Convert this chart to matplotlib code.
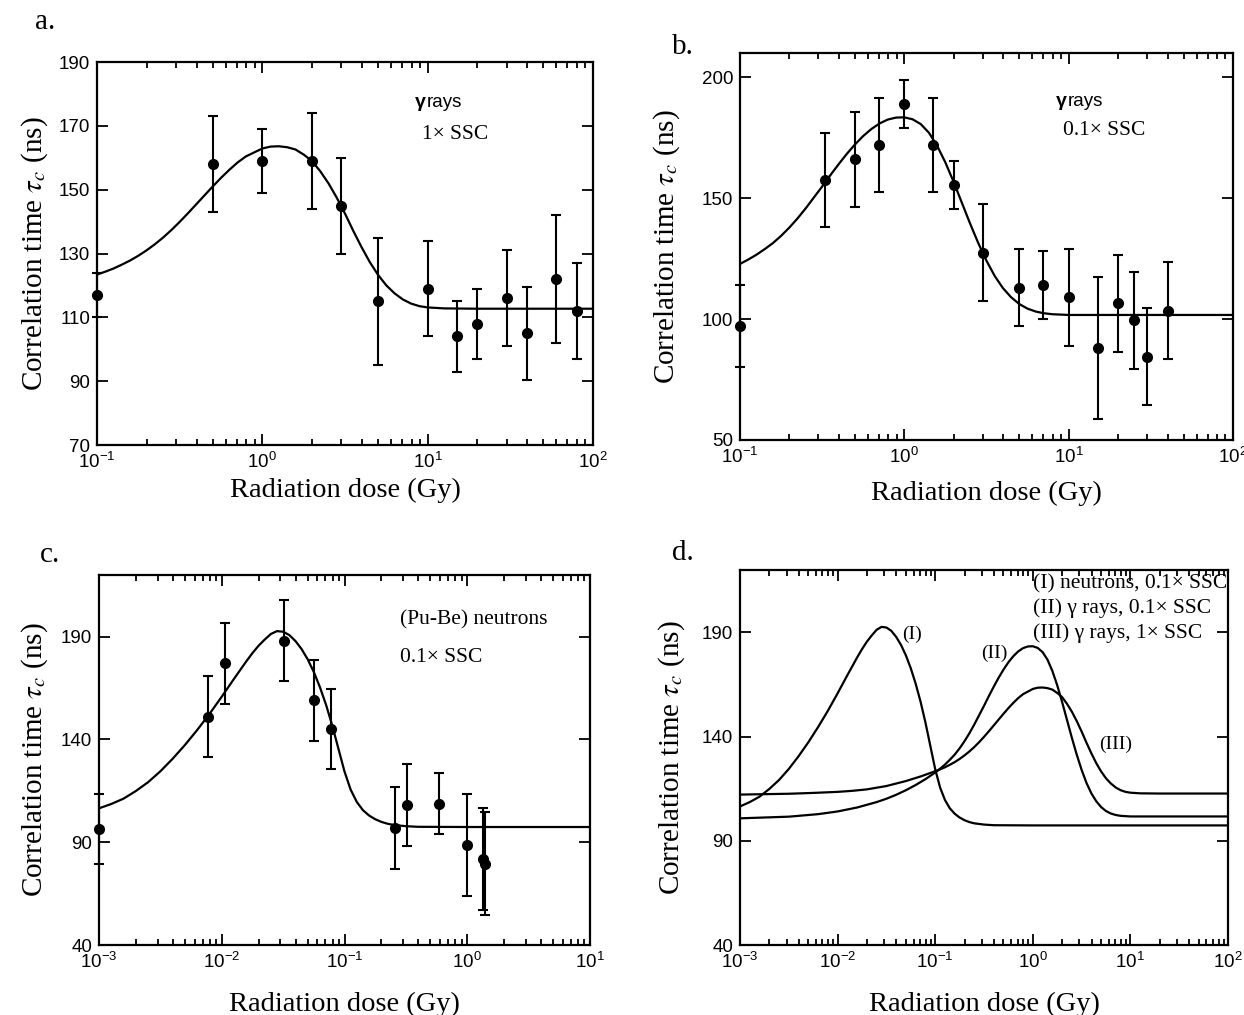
import numpy as np
import matplotlib
matplotlib.use("Agg")
import matplotlib.pyplot as plt
from matplotlib.ticker import NullFormatter, LogLocator

# measured points, panel a (gamma rays, 1x SSC)
dose_a = [0.1, 0.5, 1, 2, 3, 5, 10, 15, 20, 30, 40, 60, 80]
tau_a = [117, 158, 159, 159, 145, 115, 119, 104, 108, 116, 105, 122, 112]
err_a = [7, 15, 10, 15, 15, 20, 15, 11, 11, 15, 14.5, 20, 15]

# panel b (gamma rays, 0.1x SSC)
dose_b = [0.1, 0.33, 0.5, 0.7, 1, 1.5, 2, 3, 5, 7, 10, 15, 20, 25, 30, 40]
tau_b = [97, 157.5, 166, 172, 189, 172, 155.5, 127.5, 113, 114, 109, 88, 106.5, 99.5, 84.5, 103.5]
err_b = [17, 19.5, 19.5, 19.5, 10, 19.5, 10, 20, 16, 14, 20, 29.5, 20, 20, 20, 20]

# panel c (Pu-Be neutrons, 0.1x SSC)
dose_c = [0.001, 0.0077, 0.0106, 0.032, 0.056, 0.077, 0.26, 0.32, 0.59, 1.0, 1.35, 1.4]
tau_c = [96.5, 151, 177, 188, 159, 145, 97, 108, 108.7, 88.6, 81.8, 79.6]
err_c = [17, 19.7, 19.7, 19.7, 19.7, 19.6, 20, 20, 14.8, 25, 25, 25]

# fitted curves (log10 dose, tau)
# (I) neutrons, 0.1x SSC
fit1_logx = [-3.0, -2.9, -2.8, -2.7, -2.6, -2.5, -2.4, -2.3, -2.2, -2.1, -2.0, -1.9,
             -1.8, -1.75, -1.7, -1.65, -1.6, -1.55, -1.5, -1.45, -1.4, -1.35, -1.3,
             -1.25, -1.2, -1.15, -1.1, -1.05, -1.0, -0.95, -0.9, -0.85, -0.8, -0.75,
             -0.7, -0.65, -0.6, -0.5, -0.4, 0.0, 2.0]
fit1_tau = [106.5, 108.6, 111.2, 114.9, 119.2, 124.5, 130.6, 137.3, 144.6, 152.4, 160.8, 169.5,
            178.0, 182.0, 185.6, 188.6, 191.3, 192.7, 192.4, 190.8, 187.9, 184.0, 179.0,
            172.8, 165.4, 156.8, 146.8, 135.6, 124.4, 115.6, 109.6, 105.6, 103.0, 101.2,
            99.9, 99.0, 98.4, 97.8, 97.5, 97.4, 97.4]

# (II) gamma rays, 0.1x SSC
fit2_logx = [-3.0, -2.5, -2.2, -2.0, -1.8, -1.6, -1.5, -1.4, -1.3, -1.2, -1.1, -1.0,
             -0.95, -0.9, -0.85, -0.8, -0.75, -0.7, -0.65, -0.6, -0.55, -0.5, -0.45,
             -0.4, -0.35, -0.3, -0.25, -0.2, -0.15, -0.1, -0.05, 0.0,
             0.05, 0.1, 0.15, 0.2, 0.25, 0.3, 0.35, 0.4, 0.45, 0.5, 0.55, 0.6, 0.65,
             0.7, 0.75, 0.8, 0.85, 0.9, 1.0, 2.0]
fit2_tau = [100.8, 101.6, 102.8, 104.1, 106.0, 108.6, 110.2, 112.1, 114.3, 116.8, 119.6, 122.8,
            124.6, 126.6, 128.9, 131.4, 134.4, 137.8, 141.6, 145.8, 150.3, 154.8, 159.5,
            164.0, 168.3, 172.2, 175.7, 178.6, 180.9, 182.5, 183.3, 183.4,
            182.6, 180.6, 177.0, 171.6, 164.7, 156.7, 148.1, 139.5, 131.4, 124.1, 117.8, 112.8, 109.0,
            106.2, 104.3, 103.1, 102.4, 102.0, 101.7, 101.7]

# (III) gamma rays, 1x SSC
fit3_logx = [-3.0, -2.5, -2.25, -2.0, -1.85, -1.7, -1.5, -1.3, -1.15, -1.0, -0.95, -0.9,
             -0.85, -0.8, -0.75, -0.7, -0.65, -0.6, -0.55, -0.5, -0.45, -0.4, -0.35,
             -0.3, -0.25, -0.2, -0.15, -0.1, 0.0, 0.05, 0.1, 0.15, 0.2, 0.25, 0.3, 0.35,
             0.4, 0.45, 0.5, 0.55, 0.6, 0.65, 0.7, 0.75, 0.8, 0.85, 0.9, 0.95, 1.0,
             1.1, 1.3, 2.0]
fit3_tau = [112.2, 112.6, 113.0, 113.5, 114.0, 114.7, 116.3, 118.7, 120.9, 123.4, 124.3, 125.3,
            126.5, 127.8, 129.3, 131.0, 132.9, 135.0, 137.35, 139.9, 142.6, 145.4, 148.2,
            151.0, 153.7, 156.2, 158.5, 160.4, 162.9, 163.5, 163.6, 163.3, 162.6, 161.0, 159.0, 155.8,
            152.0, 147.5, 142.5, 137.1, 132.0, 127.3, 123.3, 120.0, 117.5, 115.6, 114.3, 113.5, 113.1,
            112.8, 112.7, 112.7]

serif = "Liberation Serif"
sans = "Liberation Sans"

fig = plt.figure(figsize=(12.44, 10.15), dpi=100)
W, H = 1244.0, 1015.0


def make_axes(l, t, r, b):
    return fig.add_axes([l / W, 1 - b / H, (r - l) / W, (b - t) / H])


def style_axes(ax, decades, ylim, yticks, xpad=6, ypad=8):
    ax.set_xscale("log")
    ax.set_xlim(10.0 ** decades[0], 10.0 ** decades[-1])
    ax.set_ylim(*ylim)
    ax.set_xticks([10.0 ** k for k in decades])
    ax.set_xticklabels([r"$\mathregular{10^{%d}}$" % k for k in decades],
                       fontfamily=sans, fontsize=13.5)
    ax.xaxis.set_minor_locator(LogLocator(base=10, subs=np.arange(2, 10), numticks=20))
    ax.xaxis.set_minor_formatter(NullFormatter())
    ax.set_yticks(yticks)
    ax.set_yticklabels([str(v) for v in yticks], fontfamily=sans, fontsize=13.5)
    ax.tick_params(which="both", direction="in", top=True, right=True, width=1.3)
    ax.tick_params(which="major", length=8, pad=5)
    ax.tick_params(which="minor", length=4)
    for s in ax.spines.values():
        s.set_linewidth(1.6)
    ax.set_xlabel("Radiation dose (Gy)", fontfamily=serif, fontsize=20.5, labelpad=xpad)
    ax.set_ylabel(r"Correlation time $\tau_c$ (ns)", fontfamily=serif, fontsize=21,
                  labelpad=ypad, math_fontfamily="stix")


def draw_points(ax, x, y, e):
    ax.errorbar(x, y, yerr=e, fmt="o", color="black", ms=7, capsize=3.5,
                elinewidth=1.5, capthick=1.5, clip_on=False, zorder=3)


def draw_fit(ax, logx, tau):
    ax.plot(10.0 ** np.array(logx), tau, color="black", lw=1.6)


# a
ax_a = make_axes(97, 62, 593, 445)
style_axes(ax_a, [-1, 0, 1, 2], (70, 190), [70, 90, 110, 130, 150, 170, 190], xpad=4, ypad=6)
draw_fit(ax_a, fit3_logx, fit3_tau)
draw_points(ax_a, dose_a, tau_a, err_a)
ax_a.text(0.64, 0.895, "γ", transform=ax_a.transAxes, fontfamily=sans, fontsize=14,
          fontweight="bold", va="center")
ax_a.text(0.665, 0.895, "rays", transform=ax_a.transAxes, fontfamily=sans, fontsize=13.5,
          va="center")
ax_a.text(0.655, 0.81, "1× SSC", transform=ax_a.transAxes, fontfamily=serif, fontsize=15.5,
          va="center")

# b
ax_b = make_axes(740, 53, 1233, 440)
style_axes(ax_b, [-1, 0, 1, 2], (50, 210), [50, 100, 150, 200], xpad=10, ypad=14)
draw_fit(ax_b, fit2_logx, fit2_tau)
draw_points(ax_b, dose_b, tau_b, err_b)
ax_b.text(0.64, 0.875, "γ", transform=ax_b.transAxes, fontfamily=sans, fontsize=14,
          fontweight="bold", va="center")
ax_b.text(0.665, 0.875, "rays", transform=ax_b.transAxes, fontfamily=sans, fontsize=13.5,
          va="center")
ax_b.text(0.655, 0.80, "0.1× SSC", transform=ax_b.transAxes, fontfamily=serif, fontsize=15.5,
          va="center")

# c
ax_c = make_axes(99, 575, 590, 945)
style_axes(ax_c, [-3, -2, -1, 0, 1], (40, 220), [40, 90, 140, 190], xpad=14, ypad=8)
draw_fit(ax_c, fit1_logx, fit1_tau)
draw_points(ax_c, dose_c, tau_c, err_c)
ax_c.text(0.613, 0.878, "(Pu-Be) neutrons", transform=ax_c.transAxes, fontfamily=serif,
          fontsize=15.5, va="center")
ax_c.text(0.613, 0.778, "0.1× SSC", transform=ax_c.transAxes, fontfamily=serif,
          fontsize=15.5, va="center")

# d
ax_d = make_axes(740, 570, 1228, 945)
style_axes(ax_d, [-3, -2, -1, 0, 1, 2], (40, 220), [40, 90, 140, 190], xpad=14, ypad=11)
draw_fit(ax_d, fit1_logx, fit1_tau)
draw_fit(ax_d, fit2_logx, fit2_tau)
draw_fit(ax_d, fit3_logx, fit3_tau)
legend_lines = ["(I) neutrons, 0.1× SSC", "(II) γ rays, 0.1× SSC", "(III) γ rays, 1× SSC"]
for i, s in enumerate(legend_lines):
    ax_d.text(0.60, 0.963 - i * 0.066, s, transform=ax_d.transAxes, fontfamily=serif,
              fontsize=15.5, va="center")
ax_d.text(0.058, 189, "(I)", fontfamily=serif, fontsize=14, va="center", ha="center")
ax_d.text(0.40, 180, "(II)", fontfamily=serif, fontsize=14, va="center", ha="center")
ax_d.text(7.0, 136.5, "(III)", fontfamily=serif, fontsize=14, va="center", ha="center")

for lbl, x, y in [("a.", 35, 22), ("b.", 672, 47), ("c.", 40, 555), ("d.", 672, 553)]:
    fig.text(x / W, 1 - y / H, lbl, fontfamily=serif, fontsize=21, va="center")

fig.savefig("out.png", dpi=100)
